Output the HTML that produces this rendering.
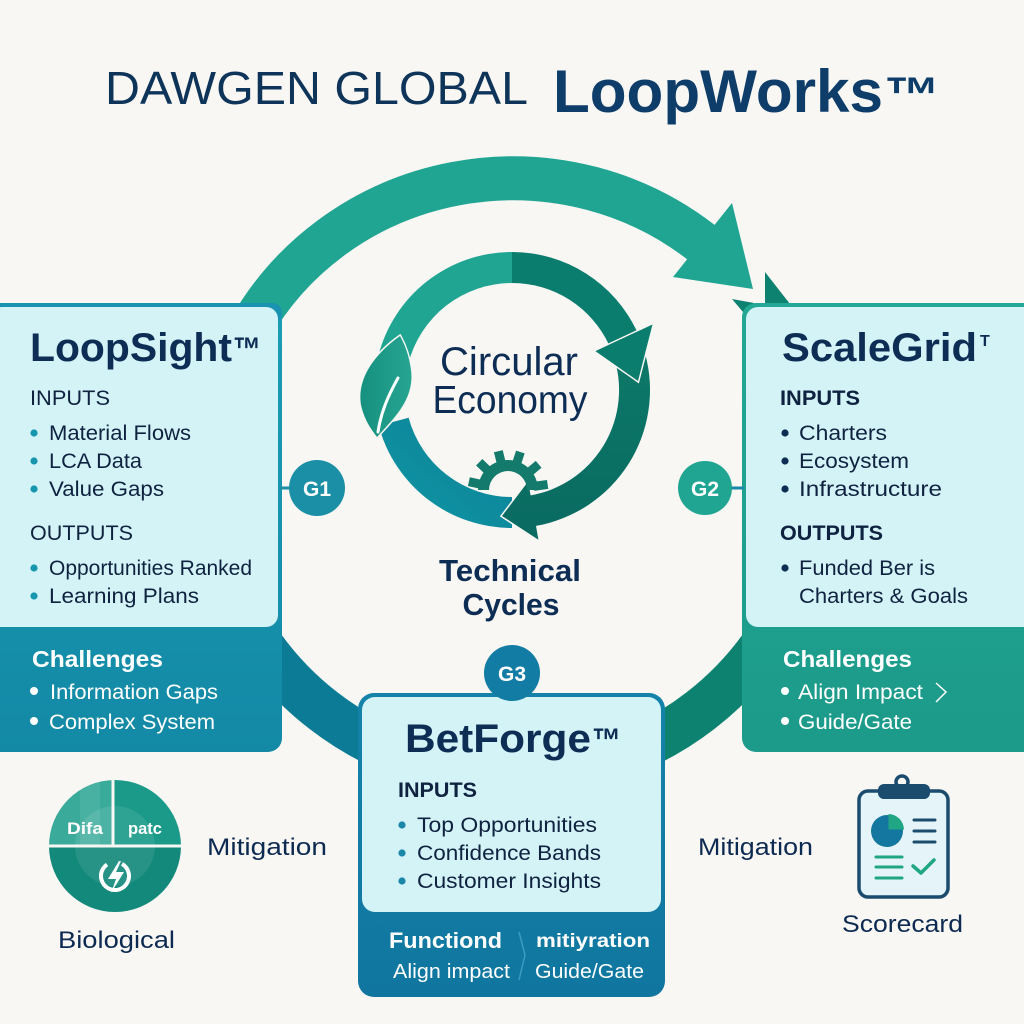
<!DOCTYPE html>
<html>
<head>
<meta charset="utf-8">
<style>
  html,body{margin:0;padding:0;background:#f8f7f3;}
  svg{display:block;}
  text{font-family:"Liberation Sans", "DejaVu Sans", sans-serif;}
</style>
</head>
<body>
<svg width="1024" height="1024" viewBox="0 0 1024 1024" xmlns="http://www.w3.org/2000/svg">
  <defs>
    <linearGradient id="gLeftLow" x1="0" y1="0" x2="0" y2="1">
      <stop offset="0" stop-color="#1b9db4"/>
      <stop offset="1" stop-color="#1389a6"/>
    </linearGradient>
    <linearGradient id="gRightLow" x1="0" y1="0" x2="0" y2="1">
      <stop offset="0" stop-color="#22a894"/>
      <stop offset="1" stop-color="#1c9a8a"/>
    </linearGradient>
    <linearGradient id="gBetLow" x1="0" y1="0" x2="0" y2="1">
      <stop offset="0" stop-color="#1583a9"/>
      <stop offset="1" stop-color="#10769f"/>
    </linearGradient>
    <linearGradient id="gD" x1="0" y1="1" x2="1" y2="0">
      <stop offset="0" stop-color="#1197a5"/>
      <stop offset="1" stop-color="#0a8096"/>
    </linearGradient>
    <linearGradient id="gC" x1="0" y1="0" x2="0" y2="1">
      <stop offset="0" stop-color="#0c7868"/>
      <stop offset="1" stop-color="#096a61"/>
    </linearGradient>
    <linearGradient id="gLeaf" x1="0" y1="0" x2="1" y2="0">
      <stop offset="0" stop-color="#16907f"/>
      <stop offset="1" stop-color="#26a592"/>
    </linearGradient>
    <clipPath id="clBio"><circle cx="115" cy="846" r="66"/></clipPath>
  </defs>

  <rect width="1024" height="1024" fill="#f8f7f3"/>

  <!-- Title -->
  <text x="105" y="104" font-size="46" fill="#0e3459" textLength="423" lengthAdjust="spacingAndGlyphs">DAWGEN GLOBAL</text>
  <text x="553" y="112" font-size="60" font-weight="bold" fill="#0e3d6a" textLength="330" lengthAdjust="spacingAndGlyphs">LoopWorks</text>
  <text x="884" y="112" font-size="50" font-weight="bold" fill="#0e3d6a" textLength="56" lengthAdjust="spacingAndGlyphs">™</text>

  <!-- Big outer loop: top arc -->
  <path d="M 250 329 A 300 290 0 0 1 702 243" fill="none" stroke="#20a593" stroke-width="44"/>
  <polygon points="673,277 732,203 753,289" fill="#20a593"/>
  <!-- small dark arrow fragments near ScaleGrid -->
  <polygon points="765,272 790,304 765,304" fill="#0e8270"/>
  <polygon points="732,299 754,303 743,312" fill="#0e8270"/>

  <!-- Bottom arcs -->
  <path d="M 262 647 A 308 308 0 0 0 400 754" fill="none" stroke="#0c7b96" stroke-width="46"/>
  <path d="M 624 754 A 308 308 0 0 0 762 647" fill="none" stroke="#0e8270" stroke-width="46"/>

  <!-- Inner circular economy ring -->
  <!-- D: blue-teal bottom-left -->
  <path d="M 512 528 A 138 138 0 0 1 378.7 425.7 L 408.6 417.7 A 107 107 0 0 0 512 497 Z" fill="url(#gD)"/>
  <!-- C: dark right-bottom with arrowhead -->
  <path d="M 645.3 354.3 A 138 138 0 0 1 536.0 525.9 L 538.4 539.7 L 502 516 L 528.1 481.6 L 530.6 495.4 A 107 107 0 0 0 615.4 362.3 Z" fill="url(#gC)" stroke="#f8f7f3" stroke-width="3" stroke-linejoin="miter" paint-order="stroke"/>
  <!-- A: light teal top-left -->
  <path d="M 378.1 356.6 A 138 138 0 0 1 512 252 L 512 283 A 107 107 0 0 0 408.2 364.1 Z" fill="#20a592"/>
  <!-- B: dark teal top-right with head -->
  <path d="M 512 252 A 138 138 0 0 1 637.1 331.7 L 609.0 344.8 A 107 107 0 0 0 512 283 Z" fill="#0b7d6e"/>
  <polygon points="652.5,324.5 638,381 595.4,351.1" fill="#0b7d6e" stroke="#f8f7f3" stroke-width="3" paint-order="stroke"/>
  <path d="M 637.1 331.7 L 609.0 344.8 L 604 356 L 640 370 Z" fill="#0b7d6e"/>

  <!-- Leaf -->
  <path d="M 400 336 C 380 350, 356 375, 361 405 C 365 422, 372 430, 377 437 C 392 420, 415 400, 411 370 C 409 355, 405 345, 400 336 Z" fill="url(#gLeaf)" stroke="#f8f7f3" stroke-width="3" paint-order="stroke"/>
  <path d="M 378 432 C 381 412, 388 396, 398 378" fill="none" stroke="#ffffff" stroke-width="3" stroke-linecap="round"/>

  <!-- Gear (half) -->
  <g fill="#137a6c">
    <path d="M 478 490 A 30 30 0 0 1 538 490 L 527 490 A 19 19 0 0 0 489 490 Z"/>
    <g transform="translate(508,490)">
      <rect x="26" y="-4.5" width="14" height="9" transform="rotate(192)"/>
      <rect x="26" y="-4.5" width="14" height="9" transform="rotate(224)"/>
      <rect x="26" y="-4.5" width="14" height="9" transform="rotate(256)"/>
      <rect x="26" y="-4.5" width="14" height="9" transform="rotate(288)"/>
      <rect x="26" y="-4.5" width="14" height="9" transform="rotate(320)"/>
      <rect x="26" y="-4.5" width="14" height="9" transform="rotate(352)"/>
    </g>
  </g>

  <!-- Center text -->
  <text x="509" y="375" font-size="40" fill="#0d2d55" text-anchor="middle" textLength="138" lengthAdjust="spacingAndGlyphs">Circular</text>
  <text x="510" y="413" font-size="39" fill="#0d2d55" text-anchor="middle" textLength="155" lengthAdjust="spacingAndGlyphs">Economy</text>
  <text x="510" y="581" font-size="31" font-weight="bold" fill="#0d2d55" text-anchor="middle" textLength="142" lengthAdjust="spacingAndGlyphs">Technical</text>
  <text x="511" y="615" font-size="31" font-weight="bold" fill="#0d2d55" text-anchor="middle" textLength="97" lengthAdjust="spacingAndGlyphs">Cycles</text>

  <!-- LEFT BOX: LoopSight -->
  <rect x="-14" y="303" width="296" height="449" rx="14" fill="url(#gLeftLow)"/>
  <rect x="-14" y="303" width="296" height="20" rx="10" fill="#1a93b0"/>
  <rect x="-10" y="307" width="288" height="320" rx="12" fill="#d3f3f7"/>
  <text x="30" y="361" font-size="40" font-weight="bold" fill="#0d2d55" textLength="202" lengthAdjust="spacingAndGlyphs">LoopSight</text>
  <text x="233" y="361" font-size="34" font-weight="bold" fill="#0d2d55" textLength="28" lengthAdjust="spacingAndGlyphs">™</text>
  <text x="30" y="405" font-size="21" fill="#0f2240" textLength="80" lengthAdjust="spacingAndGlyphs">INPUTS</text>
  <g fill="#1796ae">
    <circle cx="34" cy="433" r="3.6"/><circle cx="34" cy="461" r="3.6"/><circle cx="34" cy="489" r="3.6"/>
    <circle cx="34" cy="568" r="3.6"/><circle cx="34" cy="596" r="3.6"/>
  </g>
  <g font-size="21" fill="#0f2240">
    <text x="49" y="440" textLength="142" lengthAdjust="spacingAndGlyphs">Material Flows</text>
    <text x="49" y="468" textLength="93" lengthAdjust="spacingAndGlyphs">LCA Data</text>
    <text x="49" y="496" textLength="115" lengthAdjust="spacingAndGlyphs">Value Gaps</text>
    <text x="30" y="540" textLength="103" lengthAdjust="spacingAndGlyphs">OUTPUTS</text>
    <text x="49" y="575" textLength="203" lengthAdjust="spacingAndGlyphs">Opportunities Ranked</text>
    <text x="49" y="603" textLength="150" lengthAdjust="spacingAndGlyphs">Learning Plans</text>
  </g>
  <text x="32" y="667" font-size="23" font-weight="bold" fill="#ffffff" textLength="131" lengthAdjust="spacingAndGlyphs">Challenges</text>
  <circle cx="34" cy="691" r="4" fill="#ffffff"/><circle cx="34" cy="721" r="4" fill="#ffffff"/>
  <text x="50" y="699" font-size="21" fill="#ffffff" textLength="168" lengthAdjust="spacingAndGlyphs">Information Gaps</text>
  <text x="49" y="729" font-size="21" fill="#ffffff" textLength="166" lengthAdjust="spacingAndGlyphs">Complex System</text>

  <!-- G1 -->
  <line x1="280" y1="488" x2="295" y2="488" stroke="#1a8fa6" stroke-width="3"/>
  <circle cx="317" cy="488" r="28" fill="#1a8fa6"/>
  <text x="317" y="496" font-size="21" font-weight="bold" fill="#ffffff" text-anchor="middle">G1</text>

  <!-- RIGHT BOX: ScaleGrid -->
  <rect x="742" y="303" width="300" height="449" rx="14" fill="url(#gRightLow)"/>
  <rect x="746" y="307" width="300" height="320" rx="12" fill="#d3f3f7"/>
  <text x="782" y="361" font-size="40" font-weight="bold" fill="#0d2d55" textLength="195" lengthAdjust="spacingAndGlyphs">ScaleGrid</text>
  <text x="980" y="346" font-size="16" font-weight="bold" fill="#0d2d55">T</text>
  <text x="780" y="405" font-size="21" font-weight="bold" fill="#0f2240" textLength="80" lengthAdjust="spacingAndGlyphs">INPUTS</text>
  <g fill="#0d2d55">
    <circle cx="785" cy="433" r="3.6"/><circle cx="785" cy="461" r="3.6"/><circle cx="785" cy="489" r="3.6"/>
    <circle cx="785" cy="568" r="3.6"/>
  </g>
  <g font-size="21" fill="#0f2240">
    <text x="799" y="440" textLength="88" lengthAdjust="spacingAndGlyphs">Charters</text>
    <text x="799" y="468" textLength="110" lengthAdjust="spacingAndGlyphs">Ecosystem</text>
    <text x="799" y="496" textLength="143" lengthAdjust="spacingAndGlyphs">Infrastructure</text>
    <text x="780" y="540" font-weight="bold" textLength="103" lengthAdjust="spacingAndGlyphs">OUTPUTS</text>
    <text x="799" y="575" textLength="136" lengthAdjust="spacingAndGlyphs">Funded Ber is</text>
    <text x="799" y="603" textLength="169" lengthAdjust="spacingAndGlyphs">Charters &amp; Goals</text>
  </g>
  <text x="783" y="667" font-size="23" font-weight="bold" fill="#ffffff" textLength="129" lengthAdjust="spacingAndGlyphs">Challenges</text>
  <circle cx="785" cy="691" r="4" fill="#ffffff"/><circle cx="785" cy="721" r="4" fill="#ffffff"/>
  <text x="798" y="699" font-size="21" fill="#ffffff" textLength="125" lengthAdjust="spacingAndGlyphs">Align Impact</text>
  <polyline points="936,683 946,692 936,702" fill="none" stroke="#ffffff" stroke-width="1.5"/>
  <text x="798" y="729" font-size="21" fill="#ffffff" textLength="114" lengthAdjust="spacingAndGlyphs">Guide/Gate</text>

  <!-- G2 -->
  <line x1="728" y1="488" x2="744" y2="488" stroke="#1689a8" stroke-width="3"/>
  <circle cx="705" cy="488" r="27" fill="#20a592"/>
  <text x="705" y="496" font-size="21" font-weight="bold" fill="#ffffff" text-anchor="middle">G2</text>

  <!-- BETFORGE BOX -->
  <rect x="358" y="693" width="307" height="304" rx="16" fill="url(#gBetLow)"/>
  <rect x="362" y="697" width="299" height="215" rx="13" fill="#d3f3f7"/>
  <text x="405" y="752" font-size="40" font-weight="bold" fill="#0d2d55" textLength="186" lengthAdjust="spacingAndGlyphs">BetForge</text>
  <text x="592" y="752" font-size="34" font-weight="bold" fill="#0d2d55" textLength="29" lengthAdjust="spacingAndGlyphs">™</text>
  <text x="398" y="797" font-size="21" font-weight="bold" fill="#0f2240" textLength="79" lengthAdjust="spacingAndGlyphs">INPUTS</text>
  <g fill="#1a86a8">
    <circle cx="402" cy="825" r="3.6"/><circle cx="402" cy="853" r="3.6"/><circle cx="402" cy="881" r="3.6"/>
  </g>
  <g font-size="21" fill="#0f2240">
    <text x="417" y="832" textLength="180" lengthAdjust="spacingAndGlyphs">Top Opportunities</text>
    <text x="417" y="860" textLength="184" lengthAdjust="spacingAndGlyphs">Confidence Bands</text>
    <text x="417" y="888" textLength="184" lengthAdjust="spacingAndGlyphs">Customer Insights</text>
  </g>
  <text x="389" y="948" font-size="22" font-weight="bold" fill="#ffffff" textLength="113" lengthAdjust="spacingAndGlyphs">Functiond</text>
  <text x="536" y="947" font-size="19" font-weight="bold" fill="#ffffff" textLength="114" lengthAdjust="spacingAndGlyphs">mitiyration</text>
  <polyline points="519,932 525,955 519,980" fill="none" stroke="#3a9cc0" stroke-width="1.5"/>
  <text x="393" y="978" font-size="20" fill="#ffffff" textLength="117" lengthAdjust="spacingAndGlyphs">Align impact</text>
  <text x="535" y="978" font-size="20" fill="#ffffff" textLength="109" lengthAdjust="spacingAndGlyphs">Guide/Gate</text>

  <!-- G3 -->
  <circle cx="512" cy="673" r="28" fill="#137ca4"/>
  <text x="512" y="681" font-size="21" font-weight="bold" fill="#ffffff" text-anchor="middle">G3</text>

  <!-- Bottom-left biological icon -->
  <g clip-path="url(#clBio)">
    <rect x="49" y="780" width="64" height="66" fill="#3aab9b"/>
    <rect x="80" y="780" width="20" height="66" fill="#ffffff" opacity="0.08"/>
    <rect x="113" y="780" width="68" height="66" fill="#1b9a89"/>
    <rect x="49" y="846" width="132" height="66" fill="#12897a"/>
    <circle cx="115" cy="846" r="40" fill="#ffffff" opacity="0.09"/>
  </g>
  <line x1="49" y1="846" x2="181" y2="846" stroke="#f8f7f3" stroke-width="3"/>
  <line x1="113" y1="780" x2="113" y2="846" stroke="#f8f7f3" stroke-width="3"/>
  <text x="67" y="834" font-size="17" font-weight="bold" fill="#ffffff" textLength="36" lengthAdjust="spacingAndGlyphs">Difa</text>
  <text x="128" y="834" font-size="17" font-weight="bold" fill="#ffffff" textLength="34" lengthAdjust="spacingAndGlyphs">patc</text>
  <circle cx="115" cy="876" r="14" fill="none" stroke="#ffffff" stroke-width="4" stroke-dasharray="72 16" transform="rotate(-60 115 876)"/>
  <polygon points="119,861 108,879 116,879 111,893 124,872 116,872 121,861" fill="#ffffff"/>

  <text x="207" y="855" font-size="24" fill="#0d2a52" textLength="120" lengthAdjust="spacingAndGlyphs">Mitigation</text>
  <text x="58" y="948" font-size="24" fill="#0d2a52" textLength="117" lengthAdjust="spacingAndGlyphs">Biological</text>

  <!-- Right: Mitigation + Scorecard -->
  <text x="698" y="855" font-size="24" fill="#0d2a52" textLength="115" lengthAdjust="spacingAndGlyphs">Mitigation</text>
  <circle cx="902" cy="782" r="6" fill="none" stroke="#1b4c6e" stroke-width="3.5"/>
  <rect x="859" y="791" width="89" height="106" rx="9" fill="#e4f4f9" stroke="#1b4c6e" stroke-width="3.5"/>
  <rect x="878" y="784" width="52" height="15" rx="6" fill="#1b4c6e"/>
  <circle cx="887" cy="831" r="16" fill="#1477a0"/>
  <path d="M 888.5 829.5 L 888.5 814 A 16 16 0 0 1 904 829.5 Z" fill="#20a585"/>
  <g stroke="#1b4c6e" stroke-width="3" stroke-linecap="round">
    <line x1="914" y1="820" x2="935" y2="820"/>
    <line x1="914" y1="831" x2="935" y2="831"/>
    <line x1="914" y1="842" x2="935" y2="842"/>
  </g>
  <g stroke="#20a585" stroke-width="3" stroke-linecap="round">
    <line x1="876" y1="857" x2="902" y2="857"/>
    <line x1="876" y1="867" x2="902" y2="867"/>
    <line x1="876" y1="878" x2="902" y2="878"/>
  </g>
  <polyline points="913,866 921,873 934,860" fill="none" stroke="#20a585" stroke-width="3.5" stroke-linecap="round" stroke-linejoin="round"/>
  <text x="842" y="932" font-size="24" fill="#0d2a52" textLength="121" lengthAdjust="spacingAndGlyphs">Scorecard</text>
</svg>
</body>
</html>
